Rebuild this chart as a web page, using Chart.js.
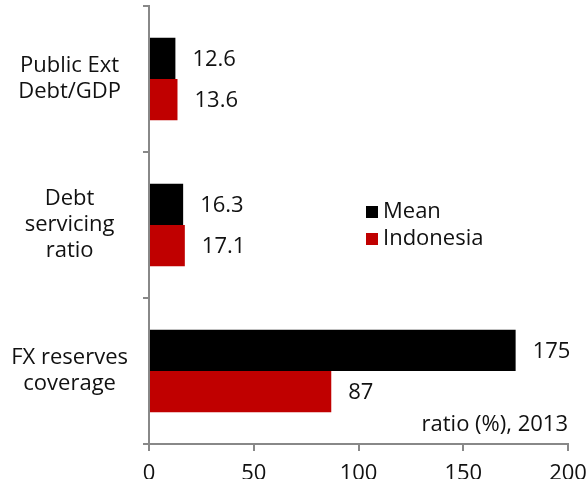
<!DOCTYPE html>
<html>
<head>
<meta charset="utf-8">
<script src="https://cdn.jsdelivr.net/npm/chart.js@4/dist/chart.umd.min.js"></script>
<style>
  html, body { margin: 0; padding: 0; background: #fff; }
  #wrap { width: 588px; height: 479px; position: relative; }
</style>
</head>
<body>
<div id="wrap"><canvas id="chart"></canvas></div>
<script>
// categories and values
const categories = [['Public Ext', 'Debt/GDP'], ['Debt', 'servicing', 'ratio'], ['FX reserves', 'coverage']];
const meanValues = [12.6, 16.3, 175];
const indonesiaValues = [13.6, 17.1, 87];
const seriesNames = ['Mean', 'Indonesia'];
const xTicks = [0, 50, 100, 150, 200];
const noteText = 'ratio (%), 2013';

const FONT = '"Open Sans", "DejaVu Sans", sans-serif';
const FONT_SIZE = 22;
const AXIS_GREY = '#888888';

// value labels to the right of each bar
const valueLabels = {
    id: 'valueLabels',
    afterDatasetsDraw(chart) {
        const ctx = chart.ctx;
        ctx.save();
        ctx.font = FONT_SIZE + 'px ' + FONT;
        ctx.fillStyle = '#111';
        ctx.textAlign = 'left';
        ctx.textBaseline = 'middle';
        chart.data.datasets.forEach((ds, i) => {
            const meta = chart.getDatasetMeta(i);
            meta.data.forEach((bar, j) => {
                ctx.fillText(String(ds.data[j]), bar.x + 17, bar.y + 1);
            });
        });
        ctx.restore();
    }
};

// legend inside the plot, plus the note at the bottom right
const insideLegend = {
    id: 'insideLegend',
    afterDraw(chart) {
        const ctx = chart.ctx;
        ctx.save();
        ctx.font = FONT_SIZE + 'px ' + FONT;
        ctx.textAlign = 'left';
        ctx.textBaseline = 'middle';
        chart.data.datasets.forEach((ds, i) => {
            const y = 211 + i * 27;
            ctx.fillStyle = ds.backgroundColor;
            ctx.fillRect(366, y - 5, 12, 12);
            ctx.fillStyle = '#111';
            ctx.fillText(ds.label, 383, y + 1);
        });
        ctx.textAlign = 'right';
        ctx.fillText(noteText, 568, 425);
        ctx.restore();
    }
};

const chart = new Chart(document.getElementById('chart'), {
    type: 'bar',
    data: {
        labels: categories,
        datasets: [
            { label: seriesNames[0], data: meanValues, backgroundColor: '#000000' },
            { label: seriesNames[1], data: indonesiaValues, backgroundColor: '#C00000' }
        ]
    },
    options: {
        indexAxis: 'y',
        responsive: true,
        maintainAspectRatio: false,
        animation: false,
        layout: { padding: { top: 6, right: 20, left: 0, bottom: 0 } },
        datasets: { bar: { categoryPercentage: 0.565, barPercentage: 1.0 } },
        plugins: {
            legend: { display: false },
            tooltip: { enabled: false }
        },
        scales: {
            x: {
                min: 0,
                max: 200,
                afterBuildTicks: (scale) => { scale.ticks = xTicks.map(v => ({ value: v })); },
                afterFit: (scale) => {
                    scale.height = 35;
                    scale.paddingLeft = 0;
                    scale.paddingRight = 0;
                },
                border: { color: AXIS_GREY, width: 2 },
                grid: { drawOnChartArea: false, tickLength: 7, color: AXIS_GREY, lineWidth: 2 },
                ticks: { color: '#111', font: { family: FONT, size: FONT_SIZE }, padding: 10, maxRotation: 0 }
            },
            y: {
                afterFit: (scale) => {
                    scale.width = 149;
                    scale.paddingTop = 0;
                    scale.paddingBottom = 0;
                },
                border: { color: AXIS_GREY, width: 2 },
                grid: { offset: true, drawOnChartArea: false, tickLength: 6, color: AXIS_GREY, lineWidth: 2 },
                ticks: {
                    color: '#111',
                    font: { family: FONT, size: FONT_SIZE, lineHeight: 1.18 },
                    crossAlign: 'center',
                    padding: 15
                }
            }
        }
    },
    plugins: [valueLabels, insideLegend]
});
</script>
</body>
</html>
